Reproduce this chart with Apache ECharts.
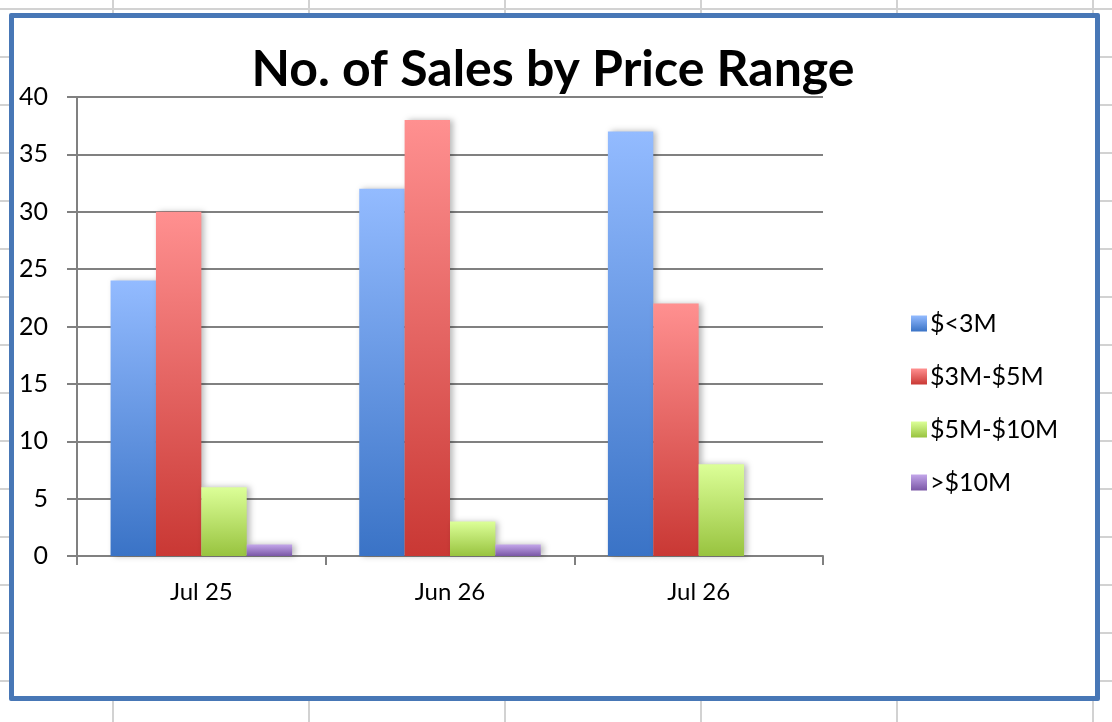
<!DOCTYPE html>
<html>
<head>
<meta charset="utf-8">
<script src="https://cdn.jsdelivr.net/npm/echarts@6/dist/echarts.min.js"></script>
<style>
  html, body { margin:0; padding:0; width:1112px; height:722px; overflow:hidden; }
  body {
    background-color:#ffffff;
    background-image:
      linear-gradient(to right, #d2d2d2 2px, transparent 2px),
      linear-gradient(to bottom, #d2d2d2 2px, transparent 2px);
    background-size:196px 48px;
    background-position:112px 8px;
    position:relative;
  }
  #frame {
    position:absolute; left:9px; top:13px; width:1081px; height:678px;
    border:5px solid #4877b6; background:#ffffff; border-radius:2px;
  }
  #chart { position:absolute; left:0; top:0; width:1112px; height:722px; }
</style>
</head>
<body>
<div id="frame"></div>
<div id="chart"></div>
<script>
const titleText = 'No. of Sales by Price Range';
const categories = ['Jul 25', 'Jun 26', 'Jul 26'];
const seriesNames = ['$<3M', '$3M-$5M', '$5M-$10M', '>$10M'];
const under3M = [24, 32, 37];
const from3to5M = [30, 38, 22];
const from5to10M = [6, 3, 8];
const over10M = [1, 1, 0];
const yTicks = { min: 0, max: 40, interval: 5 };

const gradients = [
  ['#93bbff', '#3a73c6'],
  ['#ff9090', '#c93834'],
  ['#dcff98', '#98c33f'],
  ['#c3a6ea', '#7a57a6']
];
const seriesData = [under3M, from3to5M, from5to10M, over10M];
const font = 'Lato, "Open Sans", sans-serif';

function grad(c) {
  return new echarts.graphic.LinearGradient(0, 0, 0, 1, [
    { offset: 0, color: c[0] }, { offset: 1, color: c[1] }
  ]);
}

const chart = echarts.init(document.getElementById('chart'), null, { renderer: 'canvas' });
chart.setOption({
  backgroundColor: 'transparent',
  animation: false,
  title: {
    text: titleText,
    left: 548, textAlign: 'center', top: 40,
    textStyle: { fontFamily: font, fontWeight: 'bold', fontSize: 50, color: '#000' }
  },
  legend: {
    orient: 'vertical',
    left: 906, top: 306,
    itemWidth: 16, itemHeight: 16, itemGap: 28,
    icon: 'rect',
    textStyle: { fontFamily: font, fontSize: 25, color: '#000', padding: [0, 0, 0, -2] },
    data: seriesNames
  },
  grid: { left: 77, top: 97, right: 289, bottom: 166, containLabel: false },
  xAxis: {
    type: 'category',
    data: categories,
    axisLine: { lineStyle: { color: '#808080', width: 2 } },
    axisTick: { show: true, length: 9, lineStyle: { color: '#808080', width: 2 } },
    axisLabel: { fontFamily: font, fontSize: 24, color: '#000', margin: 24 }
  },
  yAxis: {
    type: 'value',
    min: yTicks.min, max: yTicks.max, interval: yTicks.interval,
    axisLine: { show: true, lineStyle: { color: '#808080', width: 2 } },
    axisTick: { show: true, length: 10, lineStyle: { color: '#808080', width: 2 } },
    splitLine: { show: true, lineStyle: { color: '#808080', width: 2 } },
    axisLabel: { fontFamily: font, fontSize: 25, color: '#000', margin: 29 }
  },
  series: seriesNames.map((n, i) => ({
    name: n,
    type: 'bar',
    data: seriesData[i],
    barGap: '0%',
    barCategoryGap: '27%',
    itemStyle: {
      color: grad(gradients[i]),
      shadowColor: 'rgba(0,0,0,0.28)',
      shadowBlur: 6,
      shadowOffsetX: 3,
      shadowOffsetY: 0
    }
  }))
});
</script>
</body>
</html>
